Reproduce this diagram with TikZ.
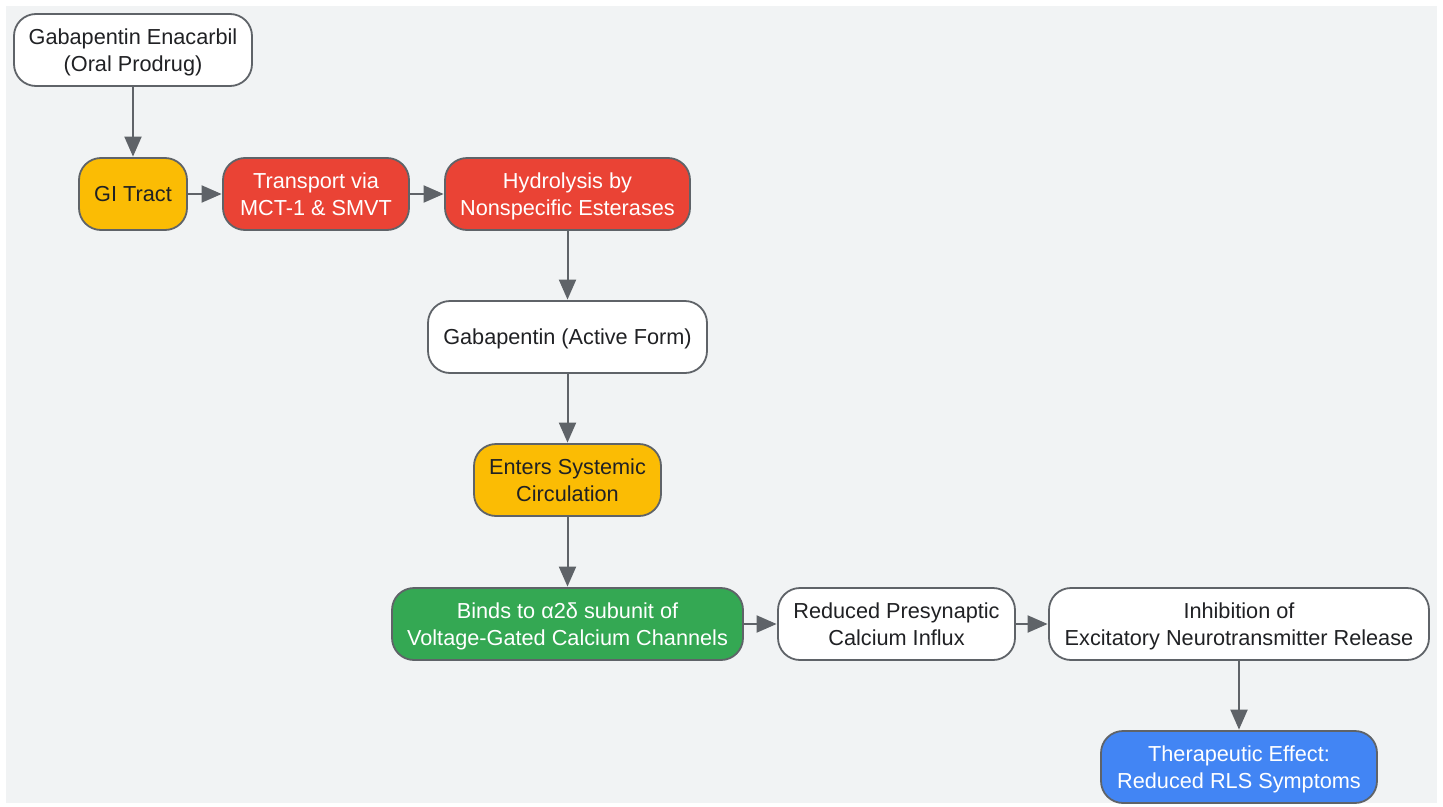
\documentclass[tikz,border=0pt]{standalone}
\usepackage{fontspec}
\setmainfont{Liberation Sans}
\usetikzlibrary{arrows.meta}
\definecolor{bg}{HTML}{F1F3F4}
\definecolor{edge}{HTML}{5F6368}
\definecolor{txt}{HTML}{202124}
\definecolor{gyellow}{HTML}{FBBC04}
\definecolor{gred}{HTML}{EA4335}
\definecolor{ggreen}{HTML}{34A853}
\definecolor{gblue}{HTML}{4285F4}
\newcommand\lowtext[1]{\raisebox{-2.5pt}[\height][\depth]{\begin{tabular}{@{}c@{}}#1\end{tabular}}}
\tikzset{
  box/.style={draw=edge, line width=1.8pt, rounded corners=22pt, align=center,
    minimum height=72pt, inner sep=0pt, text=txt,
    font=\fontsize{21.7}{27}\selectfont},
  whitebox/.style={box, fill=white},
  yellowbox/.style={box, fill=gyellow},
  redbox/.style={box, fill=gred, text=white},
  greenbox/.style={box, fill=ggreen, text=white},
  bluebox/.style={box, fill=gblue, text=white},
  conn/.style={draw=edge, line width=2pt, -{Triangle[length=20pt,width=17pt]}, shorten >=0.5pt}
}
\begin{document}
\begin{tikzpicture}[x=1pt,y=-1pt]
\useasboundingbox (0,0) rectangle (1443,806);
\fill[bg] (6,6) rectangle (1437,803);
\node[whitebox, minimum width=238pt] (a) at (133,50) {\lowtext{Gabapentin Enacarbil\\(Oral Prodrug)}};
\node[yellowbox, minimum width=108pt] (b) at (133,194) {\lowtext{GI Tract}};
\node[redbox, minimum width=186pt] (c) at (316,194) {\lowtext{Transport via\\MCT-1 \& SMVT}};
\node[redbox, minimum width=245pt] (d) at (567.5,194) {\lowtext{Hydrolysis by\\Nonspecific Esterases}};
\node[whitebox, minimum width=279pt] (e) at (567.5,337) {\lowtext{Gabapentin (Active Form)}};
\node[yellowbox, minimum width=187pt] (f) at (567.5,480) {\lowtext{Enters Systemic\\Circulation}};
\node[greenbox, minimum width=351pt] (g) at (567.5,624) {\lowtext{Binds to α2δ subunit of\\Voltage-Gated Calcium Channels}};
\node[whitebox, minimum width=237pt] (h) at (896.5,624) {\lowtext{Reduced Presynaptic\\Calcium Influx}};
\node[whitebox, minimum width=380pt] (i) at (1239,624) {\lowtext{Inhibition of\\Excitatory Neurotransmitter Release}};
\node[bluebox, minimum width=276pt] (j) at (1239,767) {\lowtext{Therapeutic Effect:\\Reduced RLS Symptoms}};
\draw[conn] (a) -- (b);
\draw[conn] (b) -- (c);
\draw[conn] (c) -- (d);
\draw[conn] (d) -- (e);
\draw[conn] (e) -- (f);
\draw[conn] (f) -- (g);
\draw[conn] (g) -- (h);
\draw[conn] (h) -- (i);
\draw[conn] (i) -- (j);
\end{tikzpicture}
\end{document}
